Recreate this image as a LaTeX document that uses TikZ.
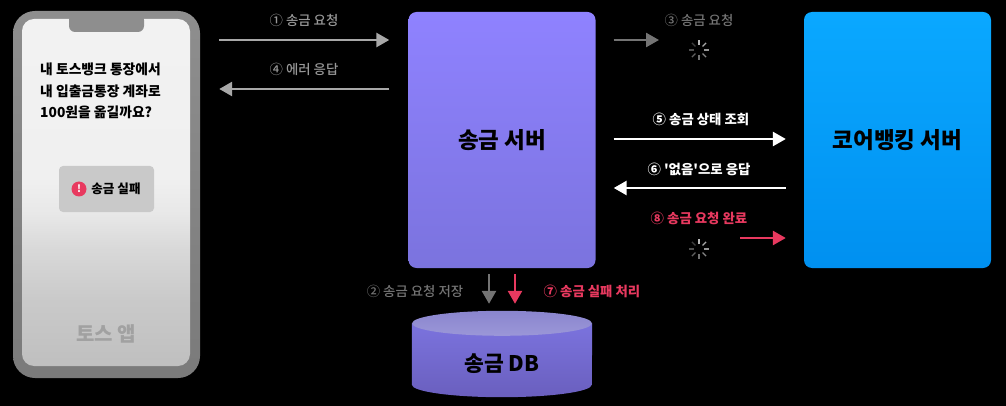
\documentclass[tikz,border=0pt]{standalone}
\usepackage{fontspec}
\setmainfont{Noto Sans CJK KR}
\newfontfamily\medfont{Noto Sans CJK KR Medium}
\newfontfamily\quotefont{Noto Sans CJK KR}
\usetikzlibrary{positioning,arrows.meta,backgrounds}
\definecolor{framegray}{HTML}{8E8E8E}
\definecolor{tosspink}{HTML}{E8395F}
\definecolor{dimgray}{HTML}{989898}
\definecolor{darkgray}{HTML}{747474}
\definecolor{srvtop}{HTML}{8F82FF}
\definecolor{srvbot}{HTML}{7B73DE}
\definecolor{coretop}{HTML}{0AA8FF}
\definecolor{corebot}{HTML}{0090F0}
\definecolor{dbbot}{HTML}{6A5FBE}
\definecolor{dbtoptop}{HTML}{8A85CE}
\definecolor{dbtopbot}{HTML}{9B97D8}
\pgfdeclareverticalshading{screenfade}{100bp}{color(0bp)=(black!25); color(25bp)=(black!25); color(34.5bp)=(black!21); color(42bp)=(black!15); color(47bp)=(black!9); color(52bp)=(black!6); color(75bp)=(black!5); color(100bp)=(black!5)}
\tikzset{
  box/.style={rounded corners=8pt, inner sep=0pt, minimum width=187pt, minimum height=256pt,
              align=center, text=black, font=\fontsize{22.5}{26}\selectfont\bfseries},
  lbl/.style={inner sep=0pt, font=\fontsize{13.4}{16}\selectfont\medfont},
  lblb/.style={inner sep=0pt, font=\fontsize{13.4}{16}\selectfont\bfseries},
  flow/.style={-{Triangle[length=13pt, width=14pt]}, line width=2.6pt},
  spinner/.pic={
    \foreach \a [count=\i] in {90,45,...,-225}
      \draw[white, opacity=0.8-\i*0.07, line width=1.3pt] (\a:5pt) -- (\a:10pt);
  },
}
\begin{document}
\begin{tikzpicture}[x=1pt, y=-1pt]
  \useasboundingbox (0,0) rectangle (1006,406);
  \begin{scope}[on background layer]
    \fill[black] (0,0) rectangle (1006,406);
  \end{scope}

  % Phone
  \node[rounded corners=22pt, minimum width=187pt, minimum height=367pt, inner sep=0pt,
        top color=framegray, bottom color=black!52] (phone) at (106.5,194.5) {};
  \node[rounded corners=12pt, minimum width=168pt, minimum height=347pt, inner sep=0pt,
        shading=screenfade] (screen) at (106,192.5) {};
  \node[rounded corners=6pt, fill=framegray, minimum width=75pt, minimum height=18pt, inner sep=0pt] (notch) at (106.5,23) {};
  \node[anchor=north west, align=left, inner sep=0pt, text=black,
        font=\fontsize{13.8}{21.5}\selectfont\bfseries] (question) at (40,63)
        {내 토스뱅크 통장에서\\내 입출금통장 계좌로\\100원을 옮길까요?};
  \node[rounded corners=4pt, fill=black!21, minimum width=95pt, minimum height=46pt, inner sep=0pt] (toast) at (106.5,189) {};
  \node[circle, fill=tosspink, minimum size=15pt, inner sep=0pt, text=white,
        font=\fontsize{10}{10}\selectfont\bfseries] (alert) at (79,189) {!};
  \node[lblb, text=black, font=\fontsize{12.6}{15}\selectfont\bfseries] (toasttxt) at (116,189) {송금 실패};
  \node[inner sep=0pt, text=black!37, font=\fontsize{20}{24}\selectfont\bfseries] (appname) at (106,334) {토스 앱};

  % Servers
  \node[box, top color=srvtop, bottom color=srvbot] (server) at (502,140) {송금 서버};
  \node[box, top color=coretop, bottom color=corebot] (core) at (897.5,140) {코어뱅킹 서버};

  % DB
  \node[inner sep=0pt, minimum width=180pt, minimum height=86pt] (db) at (502,354) {};
  \node[inner sep=0pt, text=black, font=\fontsize{21.5}{25}\selectfont\bfseries] (dbtxt) at (502,364) {송금 DB};
  \begin{scope}[on background layer]
    \path[top color=srvbot, bottom color=dbbot] ([yshift=-12.5pt]db.north west)
      -- ([yshift=12.5pt]db.south west)
      arc[start angle=180, end angle=360, x radius=90pt, y radius=12.5pt]
      -- ([yshift=-12.5pt]db.north east) -- cycle;
    \path[top color=dbtoptop, bottom color=dbtopbot] ([yshift=-12.5pt]db.north)
      ellipse[x radius=90pt, y radius=12.5pt];
  \end{scope}

  % Rows
  \coordinate (rowa) at (0,40);
  \coordinate (rowb) at (0,89);
  \coordinate (rowc) at (0,139);
  \coordinate (rowd) at (0,188);
  \coordinate (rowe) at (0,238);
  \coordinate (stopc) at (659,40);
  \coordinate (starte) at (740,238);

  % Flows
  \draw[flow, dimgray!85, shorten <=19pt, shorten >=19pt] (phone.east |- rowa) -- (server.west |- rowa);
  \draw[flow, dimgray!85, shorten <=19pt, shorten >=19pt] (server.west |- rowb) -- (phone.east |- rowb);
  \draw[flow, darkgray, shorten <=18pt] (server.east |- rowa) -- (stopc);
  \draw[flow, white, shorten <=18pt, shorten >=18pt] (server.east |- rowc) -- (core.west |- rowc);
  \draw[flow, white, shorten <=18pt, shorten >=18pt] (core.west |- rowd) -- (server.east |- rowd);
  \draw[flow, tosspink, shorten >=18pt] (starte) -- (core.west |- rowe);
  \draw[flow, darkgray] ([shift={(-13,6)}]server.south) -- ([shift={(-13,-7)}]db.north);
  \draw[flow, tosspink] ([shift={(13,6)}]server.south) -- ([shift={(13,-7)}]db.north);

  % Labels
  \node[lbl, text=dimgray] (stepa) at (304,20) {① 송금 요청};
  \node[lbl, text=dimgray] (stepd) at (304,69) {④ 에러 응답};
  \node[lbl, text=darkgray] (stepc) at (699,20) {③ 송금 요청};
  \node[lblb, text=white] (stepe) at (701,119) {⑤ 송금 상태 조회};
  \node[lblb, text=white] (stepf) at (699,169) {\quotefont\bfseries ⑥ '없음'으로 응답};
  \node[lblb, text=tosspink] (steph) at (699,218) {⑧ 송금 요청 완료};
  \node[lbl, text=darkgray] (stepb) at (415,291) {② 송금 요청 저장};
  \node[lblb, text=tosspink] (stepg) at (592,291) {⑦ 송금 실패 처리};

  \pic at (699,50) {spinner};
  \pic at (699,249) {spinner};
\end{tikzpicture}
\end{document}
